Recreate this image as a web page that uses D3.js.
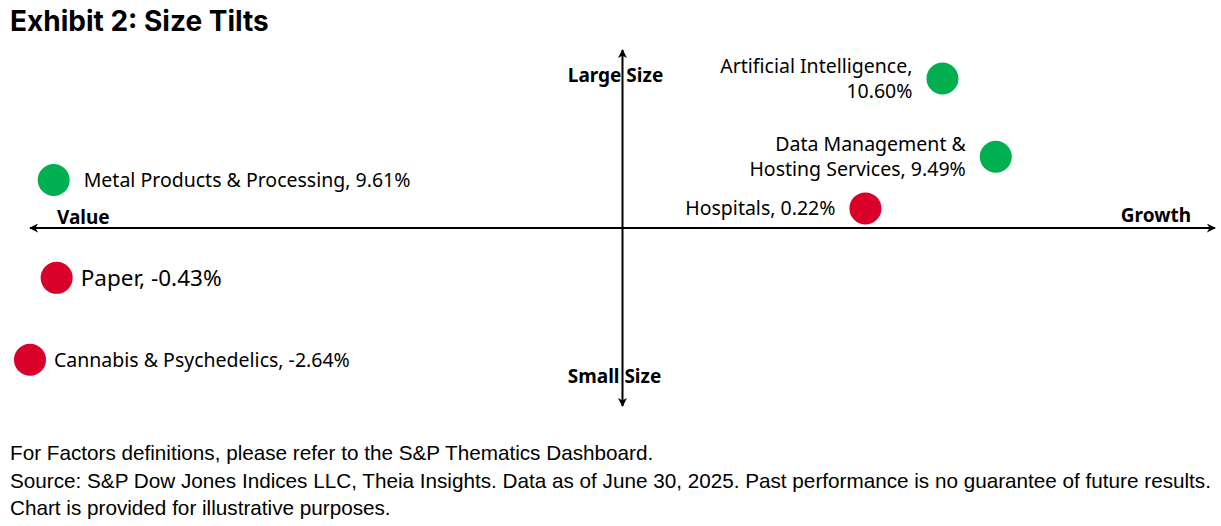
<!DOCTYPE html>
<html>
<head>
<meta charset="utf-8">
<script src="https://cdn.jsdelivr.net/npm/d3@7"></script>
<style>
  body { margin: 0; background: #fff; }
  svg text { fill: #000; }
</style>
</head>
<body>
<svg class="chart"></svg>
<script>
// size tilt map: themes placed on value/growth (x) and small/large size (y)
var themes = ["Artificial Intelligence", "Data Management & Hosting Services", "Hospitals",
              "Metal Products & Processing", "Paper", "Cannabis & Psychedelics"];
var returns = ["10.60%", "9.49%", "0.22%", "9.61%", "-0.43%", "-2.64%"];
var growthScore = [0.54, 0.63, 0.41, -0.96, -0.955, -1.0];
var sizeScore = [0.84, 0.40, 0.11, 0.27, -0.28, -0.74];
var group = ["top", "top", "bottom", "top", "bottom", "bottom"];
var labelLines = [
  ["Artificial Intelligence,", "10.60%"],
  ["Data Management &", "Hosting Services, 9.49%"],
  ["Hospitals, 0.22%"],
  ["Metal Products & Processing, 9.61%"],
  ["Paper, -0.43%"],
  ["Cannabis & Psychedelics, -2.64%"]
];

var W = 1221, H = 526;
var colors = { top: "#00b050", bottom: "#d9002a" };

var svg = d3.select(".chart").attr("width", W).attr("height", H);

var x = d3.scaleLinear().domain([-1, 1]).range([30, 1215]);
var y = d3.scaleLinear().domain([-1, 1]).range([406, 50]);

// title
svg.append("text")
  .attr("x", 10).attr("y", 31)
  .style("font-family", "Inter, 'Noto Sans', sans-serif")
  .style("font-weight", "700")
  .style("font-size", "28px")
  .text("Exhibit 2: Size Tilts");

// arrow heads
var defs = svg.append("defs");
defs.append("marker")
  .attr("id", "arrow")
  .attr("viewBox", "0 0 10 10")
  .attr("refX", 9).attr("refY", 5)
  .attr("markerWidth", 9).attr("markerHeight", 9)
  .attr("markerUnits", "userSpaceOnUse")
  .attr("orient", "auto-start-reverse")
.append("path")
  .attr("d", "M0,0 L10,5 L0,10 L3,5 Z")
  .attr("fill", "#000");

// axes
svg.append("line")
  .attr("x1", x(-1)).attr("x2", x(1))
  .attr("y1", y(0)).attr("y2", y(0))
  .attr("stroke", "#000").attr("stroke-width", 2)
  .attr("marker-start", "url(#arrow)")
  .attr("marker-end", "url(#arrow)");

svg.append("line")
  .attr("x1", x(0)).attr("x2", x(0))
  .attr("y1", y(-1)).attr("y2", y(1))
  .attr("stroke", "#000").attr("stroke-width", 2)
  .attr("marker-start", "url(#arrow)")
  .attr("marker-end", "url(#arrow)");

var axisFont = "'Noto Sans', sans-serif";
function axisLabel(px, py, anchor, txt) {
  svg.append("text")
    .attr("x", px).attr("y", py)
    .attr("text-anchor", anchor)
    .style("font-family", axisFont)
    .style("font-weight", "700")
    .style("font-size", "19px")
    .text(txt);
}
axisLabel(x(0) - 7, 82, "middle", "Large Size");
axisLabel(x(0) - 8, 383, "middle", "Small Size");
axisLabel(57, 224, "start", "Value");
axisLabel(1191, 222, "end", "Growth");

// points
var data = themes.map(function(t, i) {
  return { name: t, ret: returns[i], gx: growthScore[i], sy: sizeScore[i],
           group: group[i], lines: labelLines[i] };
});

function labelX(d) {
  if (d.gx > 0) return x(d.gx) - 30;
  return x(d.gx) + (d.name == "Metal Products & Processing" ? 30 : 24);
}

var pt = svg.selectAll(".pt")
  .data(data)
.enter().append("g")
  .attr("class", "pt");

pt.append("circle")
  .attr("cx", function(d) { return x(d.gx); })
  .attr("cy", function(d) { return y(d.sy); })
  .attr("r", 16)
  .attr("fill", function(d) { return colors[d.group]; });

pt.append("text")
  .attr("text-anchor", function(d) { return d.gx > 0 ? "end" : "start"; })
  .attr("y", function(d) { return y(d.sy) + (d.name == "Paper" ? 8 : 7) - (d.lines.length - 1) * 12.5; })
  .style("font-family", "'Noto Sans', sans-serif")
  .style("font-size", function(d) { return d.name == "Paper" ? "22.5px" : "19.5px"; })
  .selectAll("tspan")
  .data(function(d) { return d.lines.map(function(l) { return { l: l, d: d }; }); })
.enter().append("tspan")
  .attr("x", function(e) { return labelX(e.d); })
  .attr("dy", function(e, i) { return i == 0 ? 0 : 25; })
  .text(function(e) { return e.l; });

// footnotes
var notes = ["For Factors definitions, please refer to the S&P Thematics Dashboard.",
             "Source: S&P Dow Jones Indices LLC, Theia Insights. Data as of June 30, 2025. Past performance is no guarantee of future results.",
             "Chart is provided for illustrative purposes."];
svg.selectAll(".note")
  .data(notes)
.enter().append("text")
  .attr("class", "note")
  .attr("x", 10)
  .attr("y", function(d, i) { return 460 + i * 27.5; })
  .style("font-family", "'Liberation Sans', Arial, sans-serif")
  .style("font-size", "20.7px")
  .text(function(d) { return d; });
</script>
</body>
</html>
